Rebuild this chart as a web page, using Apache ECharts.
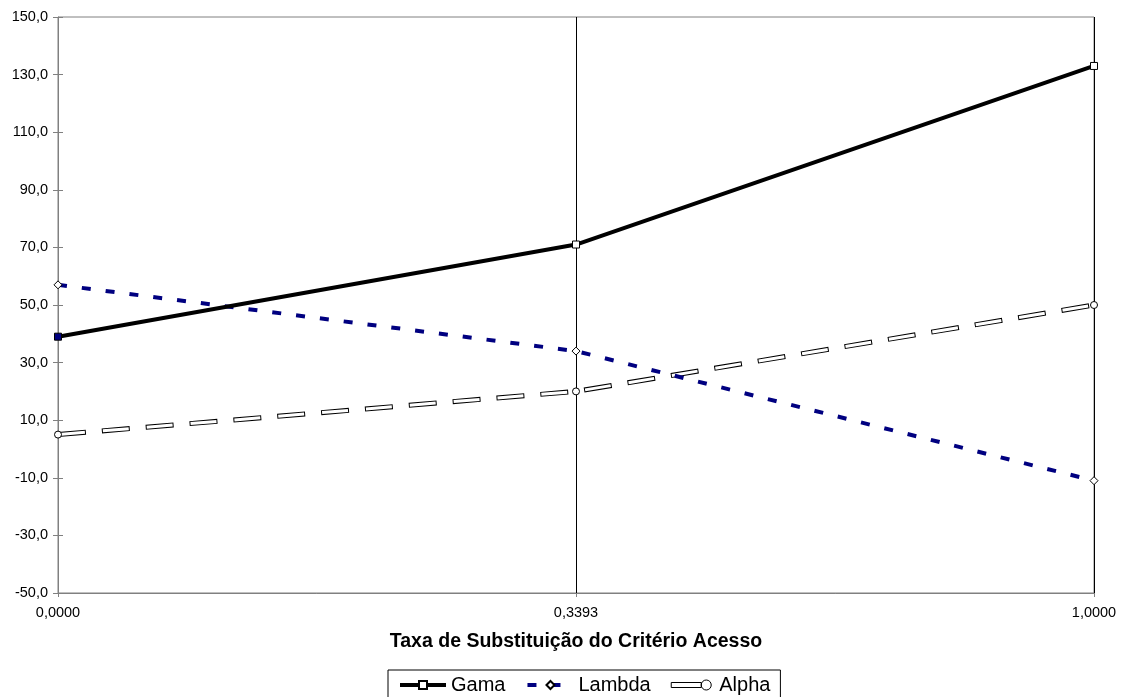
<!DOCTYPE html>
<html>
<head>
<meta charset="utf-8">
<script src="https://cdn.jsdelivr.net/npm/echarts@6/dist/echarts.min.js"></script>
<style>
  html, body { margin: 0; padding: 0; background: #fff; }
  #chart { width: 1126px; height: 697px; }
</style>
</head>
<body>
<div id="chart"></div>
<script>
// Substitution rate of the "Acesso" criterion vs. resulting scores
const categories = ['0,0000', '0,3393', '1,0000'];
const gama = [39, 71, 133];
const lambda = [57, 34, -11];
const alpha = [5, 20, 50];
const yTicks = [-50, -30, -10, 10, 30, 50, 70, 90, 110, 130, 150];
const axisTitle = 'Taxa de Substituição do Critério Acesso';

const FONT = '"Liberation Sans", Arial, Helvetica, sans-serif';
const AXIS_GRAY = '#808080';
const NAVY = '#000080';

const fmt = v => v.toFixed(1).replace('.', ',');

// first Gama point is drawn with a navy fill
const gamaData = gama.map((v, i) => i === 0
  ? { value: v, itemStyle: { color: NAVY, borderColor: '#000' } }
  : v);

const chart = echarts.init(document.getElementById('chart'), null, { renderer: 'canvas' });

const yBase = {
  type: 'value',
  min: yTicks[0],
  max: yTicks[yTicks.length - 1],
  position: 'left',
  splitLine: { show: false }
};

chart.setOption({
  animation: false,
  backgroundColor: '#fff',
  textStyle: { fontFamily: FONT },
  grid: {
    left: 58, right: 32, top: 17, bottom: 104,
    show: true, borderColor: AXIS_GRAY, borderWidth: 1,
    backgroundColor: 'transparent',
    containLabel: false,
    outerBoundsMode: 'none'
  },
  xAxis: {
    type: 'category',
    data: categories,
    boundaryGap: false,
    axisLine: { onZero: false, lineStyle: { color: AXIS_GRAY, width: 1 } },
    axisTick: { show: true, inside: false, length: 4, lineStyle: { color: AXIS_GRAY } },
    axisLabel: { color: '#000', fontSize: 14.5, fontFamily: FONT, margin: 12 },
    splitLine: { show: true, showMinLine: false, lineStyle: { color: '#000', width: 1 } },
    name: axisTitle,
    nameLocation: 'middle',
    nameGap: 39,
    nameTextStyle: { color: '#000', fontSize: 19.5, fontWeight: 'bold', fontFamily: FONT }
  },
  yAxis: [
    Object.assign({}, yBase, {
      axisLine: { show: true, onZero: false, lineStyle: { color: AXIS_GRAY, width: 1 } },
      axisTick: { show: true, inside: false, length: 5, customValues: yTicks, lineStyle: { color: AXIS_GRAY } },
      axisLabel: { color: '#000', fontSize: 14.5, fontFamily: FONT, margin: 10,
                   customValues: yTicks, formatter: fmt }
    }),
    // inner half of the cross-shaped tick marks
    Object.assign({}, yBase, {
      axisLine: { show: false },
      axisTick: { show: true, inside: true, length: 5, customValues: yTicks, lineStyle: { color: AXIS_GRAY } },
      axisLabel: { show: false }
    })
  ],
  legend: {
    left: 388,
    top: 670,
    orient: 'horizontal',
    borderColor: '#000',
    borderWidth: 1,
    borderRadius: 0,
    padding: [5, 10, 8, 10],
    itemGap: 20,
    itemWidth: 46,
    itemHeight: 10,
    textStyle: { color: '#000', fontSize: 20, fontFamily: FONT },
    data: [
      { name: 'Gama', lineStyle: { width: 4 } },
      { name: 'Lambda', lineStyle: { width: 4 } },
      {
        name: 'Alpha',
        icon: 'path://M0,2L24,2L24,6L0,6ZM24,4A4,4 0 1,1 32,4A4,4 0 1,1 24,4Z',
        itemStyle: { color: '#fff', borderColor: '#000', borderWidth: 1 }
      }
    ]
  },
  series: [
    {
      name: 'Alpha',
      type: 'line',
      data: alpha,
      symbol: 'none',
      lineStyle: { color: '#000', width: 5, type: [28, 16], cap: 'butt' },
      itemStyle: { color: '#000' },
      z: 2
    },
    {
      name: 'Alpha',
      type: 'line',
      data: alpha,
      symbol: 'circle',
      symbolSize: 7,
      lineStyle: { color: '#fff', width: 3, type: [26, 18], dashOffset: -1, cap: 'butt' },
      itemStyle: { color: '#fff', borderColor: '#000', borderWidth: 1 },
      z: 3
    },
    {
      name: 'Lambda',
      type: 'line',
      data: lambda,
      symbol: 'diamond',
      symbolSize: 8,
      lineStyle: { color: NAVY, width: 4, type: [9, 15], cap: 'butt' },
      itemStyle: { color: '#fff', borderColor: '#000', borderWidth: 1 },
      z: 4
    },
    {
      name: 'Gama',
      type: 'line',
      data: gamaData,
      symbol: 'rect',
      symbolSize: 7,
      lineStyle: { color: '#000', width: 4 },
      itemStyle: { color: '#fff', borderColor: '#000', borderWidth: 1 },
      z: 5
    }
  ]
});
</script>
</body>
</html>
